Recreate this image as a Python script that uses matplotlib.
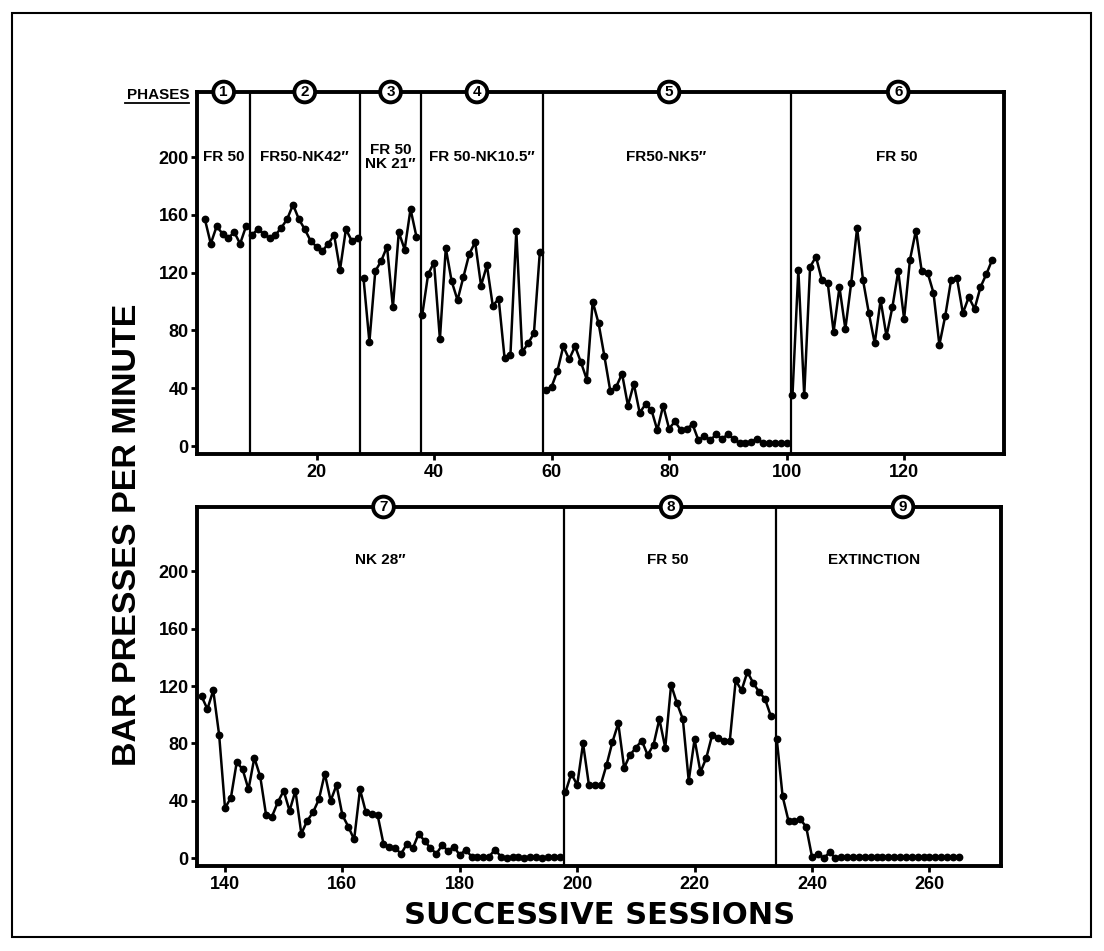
"""
plot.py  —  Bar presses per minute across successive sessions, nine phases
            (FR 50 / nonkill-delay schedules / extinction), two stacked panels.

Run:
    python3 plot.py      ->  out.png
"""

import numpy as np
import matplotlib.pyplot as plt
from matplotlib.patches import Rectangle
from matplotlib.lines import Line2D
from matplotlib.transforms import blended_transform_factory

# ── Data ─────────────────────────────────────────────────────────────────────
PHASE_LABELS = [
    "FR 50", "FR50-NK42\u2033", "FR 50\nNK 21\u2033", "FR 50-NK10.5\u2033",
    "FR50-NK5\u2033", "FR 50", "NK 28\u2033", "FR 50", "EXTINCTION",
]
PHASE_FIRST_SESSION = [1, 9, 28, 38, 59, 101, 136, 198, 234]

phase1 = [157, 140, 152, 147, 144, 148, 140, 152]
phase2 = [146, 150, 147, 144, 146, 151, 157, 167, 157, 150,
          142, 138, 135, 140, 146, 122, 150, 142, 144]
phase3 = [116, 72, 121, 128, 138, 96, 148, 136, 164, 145]
phase4 = [91, 119, 127, 74, 137, 114, 101, 117, 133, 141,
          111, 125, 97, 102, 61, 63, 149, 65, 71, 78, 134]
phase5 = [39, 41, 52, 69, 60, 69, 58, 46, 100, 85,
          62, 38, 41, 50, 28, 43, 23, 29, 25, 11,
          28, 12, 17, 11, 12, 15, 4, 7, 4, 8,
          5, 8, 5, 2, 2, 3, 5, 2, 2, 2, 2, 2]
phase6 = [35, 122, 35, 124, 131, 115, 113, 79, 110, 81,
          113, 151, 115, 92, 71, 101, 76, 96, 121, 88,
          129, 149, 121, 120, 106, 70, 90, 115, 116, 92,
          103, 95, 110, 119, 129]
phase7 = [113, 104, 117, 86, 35, 42, 67, 62, 48, 70,
          57, 30, 29, 39, 47, 33, 47, 17, 26, 32,
          41, 59, 40, 51, 30, 22, 13, 48, 32, 31,
          30, 10, 8, 7, 3, 10, 7, 17, 12, 7,
          3, 9, 5, 8, 2, 6, 1, 1, 1, 1,
          6, 1, 0, 1, 1, 0, 1, 1, 0, 1,
          1, 1]
phase8 = [46, 59, 51, 80, 51, 51, 51, 65, 81, 94,
          63, 72, 77, 82, 72, 79, 97, 77, 121, 108,
          97, 54, 83, 60, 70, 86, 84, 82, 82, 124,
          117, 130, 122, 116, 111, 99]
phase9 = [83, 43, 26, 26, 27, 22, 1, 3, 0, 4,
          0, 1, 1, 1, 1, 1, 1, 1, 1, 1,
          1, 1, 1, 1, 1, 1, 1, 1, 1, 1,
          1, 1]
PHASE_VALUES = [phase1, phase2, phase3, phase4, phase5,
                phase6, phase7, phase8, phase9]

# session where the vertical phase-change lines fall
EDGES_TOP = [8.66, 27.4, 37.7, 58.6, 100.8]
EDGES_BOTTOM = [197.7, 233.8]

Y_TICKS = [0, 40, 80, 120, 160, 200]
X_TICKS_TOP = [20, 40, 60, 80, 100, 120]
X_TICKS_BOTTOM = [140, 160, 180, 200, 220, 240, 260]

# ── Layout ───────────────────────────────────────────────────────────────────
W, H = 1104, 951
XLIM_TOP = (-0.34, 137.0)
XLIM_BOTTOM = (135.23, 272.2)
YLIM = (-5.5, 245)
CIRCLE_X = [4.2, 18.0, 32.6, 47.3, 80.0, 119.0, 167.0, 216.0, 255.5]
LABEL_X = [4.2, 18.0, 32.6, 48.2, 79.5, 118.7, 166.5, 215.5, 250.5]
LABEL_Y = [200, 200, 200, 200, 200, 200, 208, 208, 208]

plt.rcParams["font.family"] = ["Liberation Sans", "DejaVu Sans"]
plt.rcParams["font.weight"] = "bold"


def px_box(left, top, right, bottom):
    """pixel box -> figure fraction rect"""
    return [left / W, 1 - bottom / H, (right - left) / W, (bottom - top) / H]


def draw_panel(ax, phase_ids, edges, xlim, xticks):
    for i in phase_ids:
        vals = PHASE_VALUES[i]
        sess = np.arange(PHASE_FIRST_SESSION[i], PHASE_FIRST_SESSION[i] + len(vals))
        ax.plot(sess, vals, "-o", color="black", lw=1.8, ms=4.6, zorder=3)
    for e in edges:
        ax.axvline(e, color="black", lw=1.6, zorder=2)

    trans = blended_transform_factory(ax.transData, ax.transAxes)
    for i in phase_ids:
        ax.text(CIRCLE_X[i], 1.0, str(i + 1), transform=trans,
                ha="center", va="center", fontsize=11, fontweight="bold",
                bbox=dict(boxstyle="circle,pad=0.22", fc="white", ec="black", lw=2.8),
                clip_on=False, zorder=6)
        ax.text(LABEL_X[i], LABEL_Y[i], PHASE_LABELS[i], ha="center", va="center",
                fontsize=11, fontweight="bold", linespacing=1.0, zorder=4)

    ax.set_xlim(*xlim)
    ax.set_ylim(*YLIM)
    ax.set_xticks(xticks)
    ax.set_yticks(Y_TICKS)
    ax.tick_params(axis="y", direction="out", length=4.5, width=2, pad=1.5, labelsize=13)
    ax.tick_params(axis="x", direction="out", length=4.5, width=2, pad=3, labelsize=13)
    for sp in ax.spines.values():
        sp.set_linewidth(2.8)


fig = plt.figure(figsize=(W / 100, H / 100), dpi=100)
ax_top = fig.add_axes(px_box(197, 92, 1004, 454))
ax_bot = fig.add_axes(px_box(197, 507, 1001, 866))

draw_panel(ax_top, range(0, 6), EDGES_TOP, XLIM_TOP, X_TICKS_TOP)
draw_panel(ax_bot, range(6, 9), EDGES_BOTTOM, XLIM_BOTTOM, X_TICKS_BOTTOM)

# "PHASES" tag with underline, left of the top panel
fig.text(190 / W, 1 - 99 / H, "PHASES", ha="right", va="baseline",
         fontsize=11, fontweight="bold")
fig.add_artist(Line2D([125 / W, 189 / W], [1 - 103 / H, 1 - 103 / H],
                      color="black", lw=1.3, transform=fig.transFigure))

# axis titles
fig.text(128 / W, 1 - 535 / H, "BAR PRESSES PER MINUTE", rotation=90,
         ha="center", va="center", fontsize=24.5, fontweight="bold")
fig.text(600 / W, 1 - 915 / H, "SUCCESSIVE SESSIONS", ha="center", va="center",
         fontsize=22, fontweight="bold", family=["DejaVu Sans"])

# outer frame round the whole plate
fig.add_artist(Rectangle((12 / W, 1 - 937 / H), (1091 - 12) / W, (937 - 13) / H,
                         transform=fig.transFigure, fill=False, lw=1.5, ec="black"))

fig.savefig("out.png", dpi=100)
